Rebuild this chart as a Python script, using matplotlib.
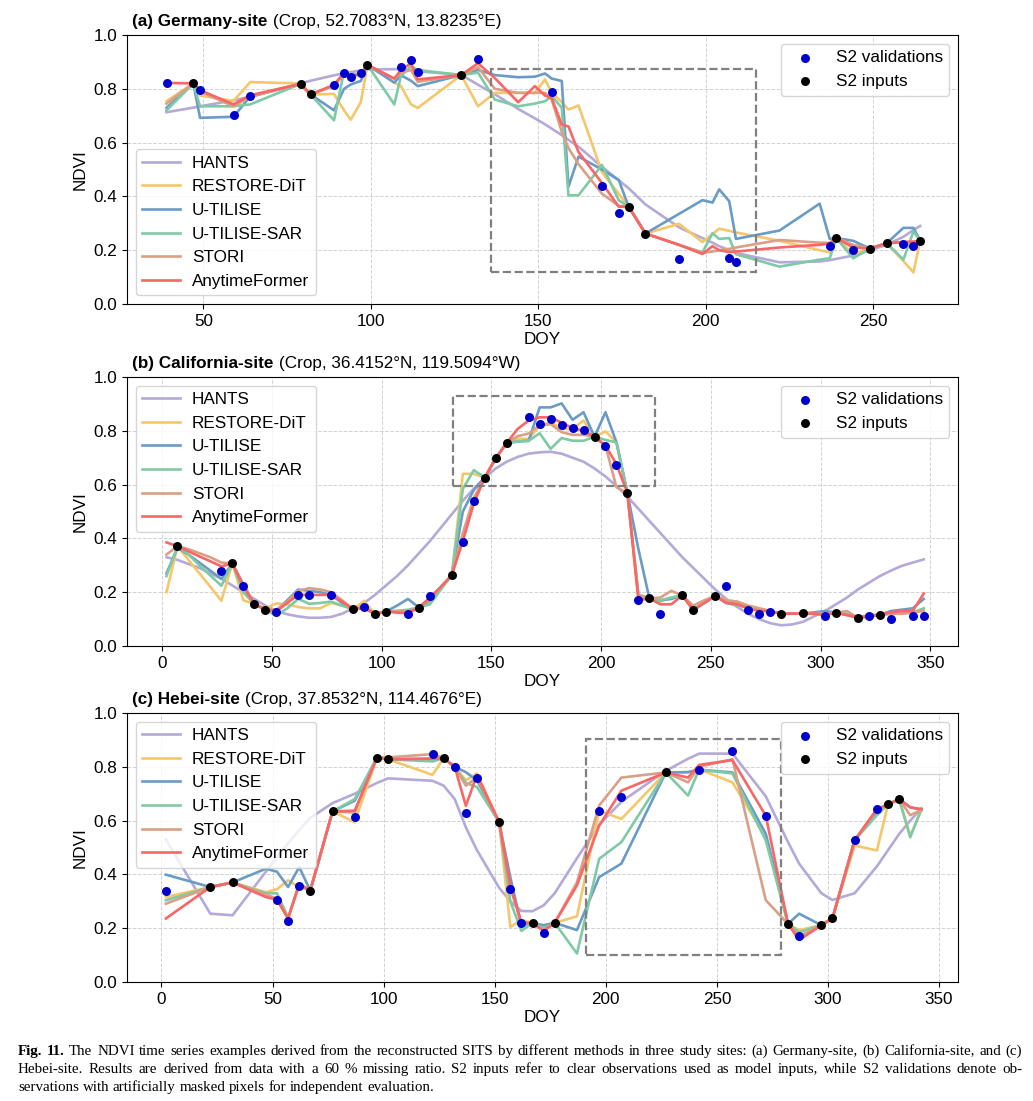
import matplotlib
matplotlib.use('Agg')
import matplotlib.pyplot as plt
from matplotlib.patches import Rectangle

plt.rcParams['font.family'] = ['Liberation Sans', 'DejaVu Sans']
plt.rcParams['font.size'] = 12.3

# ---------------- data ----------------
methods = ['HANTS', 'RESTORE-DiT', 'U-TILISE', 'U-TILISE-SAR', 'STORI', 'AnytimeFormer']

# (a) Germany-site
doy_a = [39, 47, 49, 59, 64, 79, 82, 89, 92, 94, 97, 99, 107, 109, 112, 114, 127, 132, 137, 144,
         149, 152, 154, 157, 159, 162, 169, 174, 177, 182, 192, 199, 202, 204, 207, 209, 222, 234, 237, 239,
         244, 249, 254, 259, 262, 264]
hants_a = [0.713, 0.73, 0.735, 0.757, 0.77, 0.82, 0.83, 0.85, 0.858, 0.862, 0.868, 0.872, 0.873, 0.873, 0.87, 0.865, 0.852, 0.815, 0.78, 0.725,
           0.69, 0.668, 0.652, 0.628, 0.61, 0.585, 0.51, 0.46, 0.43, 0.37, 0.285, 0.245, 0.228, 0.215, 0.2, 0.19, 0.155, 0.158, 0.163, 0.168,
           0.18, 0.2, 0.22, 0.25, 0.275, 0.29]
restore_a = [0.754, 0.82, 0.775, 0.755, 0.825, 0.82, 0.779, 0.781, 0.72, 0.685, 0.75, 0.889, 0.823, 0.81, 0.742, 0.729, 0.851, 0.735, 0.785, 0.785,
             0.785, 0.835, 0.785, 0.75, 0.723, 0.738, 0.49, 0.41, 0.361, 0.262, 0.298, 0.23, 0.26, 0.28, 0.272, 0.266, 0.235, 0.2, 0.192, 0.245,
             0.185, 0.206, 0.226, 0.16, 0.117, 0.235]
utilise_a = [0.729, 0.82, 0.692, 0.696, 0.772, 0.818, 0.779, 0.72, 0.8, 0.816, 0.829, 0.889, 0.823, 0.85, 0.83, 0.81, 0.851, 0.87, 0.851, 0.843,
             0.845, 0.857, 0.838, 0.829, 0.436, 0.548, 0.5, 0.461, 0.361, 0.262, 0.335, 0.386, 0.377, 0.426, 0.382, 0.242, 0.273, 0.373, 0.242, 0.245,
             0.235, 0.206, 0.226, 0.283, 0.283, 0.235]
sar_a = [0.72, 0.82, 0.735, 0.735, 0.742, 0.818, 0.779, 0.683, 0.866, 0.85, 0.857, 0.889, 0.742, 0.848, 0.884, 0.87, 0.851, 0.86, 0.76, 0.735,
         0.745, 0.754, 0.772, 0.73, 0.404, 0.404, 0.517, 0.386, 0.361, 0.262, 0.22, 0.192, 0.263, 0.242, 0.245, 0.185, 0.139, 0.165, 0.17, 0.245,
         0.17, 0.206, 0.226, 0.165, 0.27, 0.235]
stori_a = [0.745, 0.82, 0.79, 0.735, 0.77, 0.818, 0.779, 0.81, 0.855, 0.845, 0.855, 0.889, 0.838, 0.86, 0.87, 0.826, 0.851, 0.88, 0.8, 0.785,
           0.785, 0.785, 0.76, 0.64, 0.58, 0.52, 0.41, 0.365, 0.361, 0.262, 0.22, 0.19, 0.195, 0.2, 0.205, 0.21, 0.238, 0.228, 0.227, 0.245,
           0.22, 0.206, 0.226, 0.23, 0.23, 0.235]
anytime_a = [0.822, 0.82, 0.795, 0.742, 0.776, 0.818, 0.779, 0.815, 0.86, 0.844, 0.857, 0.889, 0.838, 0.87, 0.895, 0.835, 0.851, 0.895, 0.84, 0.75,
             0.81, 0.775, 0.765, 0.667, 0.66, 0.565, 0.45, 0.362, 0.361, 0.262, 0.22, 0.186, 0.215, 0.2, 0.193, 0.195, 0.21, 0.22, 0.225, 0.245,
             0.21, 0.206, 0.226, 0.23, 0.232, 0.235]
in_doy_a = [47, 79, 82, 99, 127, 177, 182, 239, 249, 254, 264]
in_ndvi_a = [0.82, 0.818, 0.779, 0.889, 0.851, 0.361, 0.262, 0.245, 0.206, 0.226, 0.235]
val_doy_a = [39, 49, 59, 64, 89, 92, 94, 97, 109, 112, 114, 132, 154, 169, 174, 192, 207, 209, 237, 244, 259, 262]
val_ndvi_a = [0.82, 0.795, 0.704, 0.772, 0.815, 0.86, 0.844, 0.857, 0.881, 0.906, 0.862, 0.91, 0.789, 0.438, 0.338, 0.167, 0.171, 0.156, 0.215, 0.2, 0.222, 0.216]

# (b) California-site
doy_b = [2, 7, 12, 17, 22, 27, 32, 37, 42, 47,
         52, 57, 62, 67, 72, 77, 82, 87, 92, 97,
         102, 107, 112, 117, 122, 127, 132, 137, 142, 147,
         152, 157, 162, 167, 172, 177, 182, 187, 192, 197,
         202, 207, 212, 217, 222, 227, 232, 237, 242, 247,
         252, 257, 262, 267, 272, 277, 282, 287, 292, 297,
         302, 307, 312, 317, 322, 327, 332, 337, 342, 347]
hants_b = [0.33, 0.32, 0.305, 0.29, 0.27, 0.25, 0.225, 0.2, 0.175, 0.15,
           0.13, 0.118, 0.11, 0.105, 0.105, 0.108, 0.12, 0.14, 0.16, 0.19,
           0.225, 0.26, 0.3, 0.345, 0.39, 0.44, 0.49, 0.54, 0.585, 0.625,
           0.66, 0.685, 0.703, 0.715, 0.72, 0.722, 0.715, 0.7, 0.685, 0.66,
           0.63, 0.595, 0.555, 0.51, 0.465, 0.42, 0.375, 0.33, 0.29, 0.25,
           0.21, 0.175, 0.145, 0.12, 0.1, 0.085, 0.077, 0.08, 0.09, 0.11,
           0.13, 0.155, 0.18, 0.21, 0.235, 0.26, 0.28, 0.298, 0.31, 0.322]
restore_b = [0.2, 0.371, 0.32, 0.27, 0.22, 0.168, 0.307, 0.17, 0.156, 0.14,
             0.158, 0.155, 0.145, 0.14, 0.14, 0.16, 0.15, 0.137, 0.168, 0.119,
             0.128, 0.13, 0.13, 0.143, 0.165, 0.215, 0.264, 0.64, 0.64, 0.626,
             0.698, 0.755, 0.77, 0.77, 0.819, 0.832, 0.807, 0.807, 0.838, 0.778,
             0.798, 0.757, 0.568, 0.18, 0.177, 0.165, 0.18, 0.188, 0.134, 0.165,
             0.186, 0.17, 0.165, 0.15, 0.14, 0.13, 0.12, 0.12, 0.121, 0.12,
             0.12, 0.124, 0.12, 0.105, 0.11, 0.116, 0.12, 0.125, 0.125, 0.135]
utilise_b = [0.27, 0.365, 0.34, 0.31, 0.28, 0.25, 0.307, 0.23, 0.156, 0.135,
             0.13, 0.17, 0.21, 0.205, 0.2, 0.19, 0.16, 0.137, 0.145, 0.119,
             0.128, 0.15, 0.175, 0.143, 0.17, 0.215, 0.264, 0.5, 0.58, 0.626,
             0.698, 0.755, 0.76, 0.763, 0.887, 0.887, 0.902, 0.841, 0.869, 0.778,
             0.869, 0.757, 0.568, 0.36, 0.177, 0.17, 0.175, 0.188, 0.134, 0.16,
             0.186, 0.165, 0.155, 0.145, 0.135, 0.13, 0.12, 0.122, 0.121, 0.125,
             0.13, 0.124, 0.115, 0.105, 0.115, 0.116, 0.13, 0.135, 0.14, 0.175]
sar_b = [0.26, 0.371, 0.34, 0.3, 0.262, 0.224, 0.307, 0.2, 0.156, 0.135,
         0.113, 0.14, 0.175, 0.157, 0.16, 0.165, 0.15, 0.137, 0.14, 0.119,
         0.128, 0.13, 0.135, 0.143, 0.155, 0.21, 0.264, 0.584, 0.654, 0.626,
         0.698, 0.755, 0.76, 0.763, 0.791, 0.733, 0.773, 0.763, 0.763, 0.778,
         0.766, 0.757, 0.568, 0.19, 0.177, 0.17, 0.18, 0.188, 0.134, 0.16,
         0.186, 0.16, 0.15, 0.145, 0.135, 0.13, 0.12, 0.12, 0.121, 0.12,
         0.12, 0.124, 0.12, 0.105, 0.11, 0.116, 0.12, 0.12, 0.125, 0.14]
stori_b = [0.34, 0.371, 0.36, 0.345, 0.33, 0.31, 0.307, 0.225, 0.156, 0.135,
           0.135, 0.165, 0.205, 0.215, 0.21, 0.2, 0.17, 0.137, 0.14, 0.119,
           0.128, 0.13, 0.13, 0.143, 0.175, 0.22, 0.264, 0.42, 0.55, 0.626,
           0.698, 0.755, 0.78, 0.79, 0.82, 0.825, 0.795, 0.785, 0.785, 0.778,
           0.745, 0.59, 0.568, 0.19, 0.177, 0.18, 0.205, 0.188, 0.15, 0.17,
           0.186, 0.17, 0.165, 0.15, 0.14, 0.13, 0.12, 0.12, 0.121, 0.12,
           0.12, 0.124, 0.13, 0.105, 0.11, 0.116, 0.12, 0.12, 0.125, 0.13]
anytime_b = [0.385, 0.371, 0.352, 0.333, 0.315, 0.296, 0.307, 0.222, 0.156, 0.135,
             0.128, 0.16, 0.19, 0.19, 0.19, 0.19, 0.165, 0.137, 0.143, 0.119,
             0.128, 0.124, 0.122, 0.143, 0.18, 0.22, 0.264, 0.39, 0.53, 0.626,
             0.698, 0.755, 0.807, 0.838, 0.85, 0.85, 0.83, 0.81, 0.8, 0.778,
             0.745, 0.676, 0.568, 0.17, 0.177, 0.155, 0.155, 0.188, 0.134, 0.16,
             0.186, 0.16, 0.155, 0.14, 0.13, 0.13, 0.12, 0.12, 0.121, 0.12,
             0.115, 0.124, 0.115, 0.105, 0.11, 0.116, 0.125, 0.13, 0.13, 0.195]
in_doy_b = [7, 32, 42, 47, 87, 97, 102, 117, 132, 147, 152, 157, 197, 212, 222, 237, 242, 252, 282, 292, 307, 317, 327]
in_ndvi_b = [0.371, 0.307, 0.156, 0.135, 0.137, 0.119, 0.128, 0.143, 0.264, 0.626, 0.698, 0.755, 0.778, 0.568, 0.177, 0.188,
             0.134, 0.186, 0.12, 0.121, 0.124, 0.105, 0.116]
val_doy_b = [27, 37, 52, 62, 67, 77, 92, 112, 122, 137, 142, 167, 172, 177, 182, 187, 192, 202, 207, 217, 227, 257, 267, 272,
             277, 302, 322, 332, 342, 347]
val_ndvi_b = [0.278, 0.222, 0.125, 0.19, 0.191, 0.191, 0.145, 0.119, 0.185, 0.388, 0.539, 0.852, 0.826, 0.845, 0.821, 0.81, 0.803,
              0.744, 0.674, 0.171, 0.119, 0.222, 0.135, 0.119, 0.125, 0.113, 0.113, 0.1, 0.113, 0.113]

# (c) Hebei-site
doy_c = [2, 22, 32, 47, 52, 57, 62, 67, 77, 87,
         97, 102, 122, 127, 132, 137, 142, 152, 157, 162,
         167, 172, 177, 187, 197, 207, 227, 237, 242, 257,
         272, 282, 287, 297, 302, 312, 322, 327, 332, 337, 342]
hants_c = [0.53, 0.254, 0.248, 0.41, 0.465, 0.515, 0.565, 0.61, 0.665, 0.7,
           0.74, 0.757, 0.748, 0.73, 0.68, 0.575, 0.49, 0.35, 0.3, 0.264,
           0.263, 0.285, 0.33, 0.46, 0.585, 0.67, 0.785, 0.83, 0.849, 0.849,
           0.69, 0.52, 0.44, 0.33, 0.305, 0.33, 0.43, 0.49, 0.55, 0.6, 0.645]
restore_c = [0.316, 0.353, 0.37, 0.334, 0.345, 0.378, 0.352, 0.34, 0.634, 0.594,
             0.834, 0.828, 0.77, 0.832, 0.8, 0.75, 0.775, 0.594, 0.205, 0.23,
             0.22, 0.21, 0.22, 0.244, 0.637, 0.606, 0.779, 0.78, 0.791, 0.742,
             0.538, 0.216, 0.193, 0.211, 0.237, 0.507, 0.489, 0.66, 0.68, 0.544, 0.637]
utilise_c = [0.399, 0.353, 0.37, 0.421, 0.41, 0.353, 0.427, 0.34, 0.634, 0.674,
             0.834, 0.828, 0.83, 0.832, 0.8, 0.78, 0.75, 0.594, 0.39, 0.21,
             0.22, 0.211, 0.22, 0.193, 0.39, 0.44, 0.779, 0.78, 0.789, 0.779,
             0.551, 0.216, 0.254, 0.211, 0.237, 0.527, 0.635, 0.66, 0.68, 0.65, 0.64]
sar_c = [0.304, 0.353, 0.37, 0.33, 0.33, 0.24, 0.36, 0.34, 0.634, 0.68,
         0.834, 0.828, 0.82, 0.832, 0.8, 0.74, 0.725, 0.594, 0.3, 0.19,
         0.22, 0.2, 0.22, 0.106, 0.458, 0.52, 0.779, 0.693, 0.79, 0.775,
         0.526, 0.216, 0.185, 0.211, 0.237, 0.527, 0.62, 0.66, 0.68, 0.538, 0.643]
stori_c = [0.291, 0.353, 0.37, 0.325, 0.31, 0.236, 0.365, 0.34, 0.634, 0.63,
           0.834, 0.835, 0.847, 0.832, 0.8, 0.73, 0.76, 0.594, 0.35, 0.22,
           0.22, 0.19, 0.22, 0.37, 0.656, 0.76, 0.779, 0.742, 0.8, 0.828,
           0.304, 0.216, 0.17, 0.211, 0.237, 0.527, 0.64, 0.66, 0.68, 0.62, 0.64]
anytime_c = [0.236, 0.353, 0.37, 0.316, 0.306, 0.236, 0.365, 0.34, 0.634, 0.637,
             0.834, 0.828, 0.83, 0.832, 0.8, 0.655, 0.77, 0.594, 0.36, 0.22,
             0.22, 0.19, 0.22, 0.359, 0.581, 0.711, 0.779, 0.76, 0.807, 0.825,
             0.618, 0.216, 0.156, 0.211, 0.237, 0.527, 0.643, 0.66, 0.68, 0.649, 0.643]
in_doy_c = [22, 32, 67, 77, 97, 102, 127, 152, 167, 177, 227, 282, 297, 302, 327, 332]
in_ndvi_c = [0.353, 0.37, 0.34, 0.634, 0.834, 0.828, 0.832, 0.594, 0.22, 0.22, 0.779, 0.216, 0.211, 0.237, 0.66, 0.68]
val_doy_c = [2, 52, 57, 62, 87, 122, 132, 137, 142, 157, 162, 172, 197, 207, 242, 257, 272, 287, 312, 322]
val_ndvi_c = [0.337, 0.306, 0.227, 0.358, 0.612, 0.847, 0.8, 0.627, 0.758, 0.346, 0.22, 0.183, 0.634, 0.688, 0.789, 0.858,
              0.616, 0.17, 0.527, 0.643]

# highlighted windows (DOY start, DOY end, NDVI low, NDVI high)
box_a = (136, 215, 0.118, 0.872)
box_b = (132.5, 224.5, 0.595, 0.93)
box_c = (191.3, 279, 0.1, 0.903)

titles_bold = ['(a) Germany-site', '(b) California-site', '(c) Hebei-site']
titles_rest = ['(Crop, 52.7083°N, 13.8235°E)', '(Crop, 36.4152°N, 119.5094°W)', '(Crop, 37.8532°N, 114.4676°E)']

# ---------------- style ----------------
colors = ['#B4A9D8', '#F5C76A', '#6A9BC7', '#7DCAA5', '#D9A085', '#FA6565']
W, H = 1033, 1101
fig = plt.figure(figsize=(W / 100, H / 100), dpi=100)


def ax_rect(left, right, top, bottom):
    return [left / W, 1 - bottom / H, (right - left) / W, (bottom - top) / H]


panels = [
    dict(rect=ax_rect(127, 958, 35, 304), doy=doy_a,
         series=[hants_a, restore_a, utilise_a, sar_a, stori_a, anytime_a],
         ind=in_doy_a, inv=in_ndvi_a, vd=val_doy_a, vv=val_ndvi_a, box=box_a,
         xlim=(27.2, 275.3), xticks=[50, 100, 150, 200, 250], legloc='lower left'),
    dict(rect=ax_rect(127, 958, 377, 646), doy=doy_b,
         series=[hants_b, restore_b, utilise_b, sar_b, stori_b, anytime_b],
         ind=in_doy_b, inv=in_ndvi_b, vd=val_doy_b, vv=val_ndvi_b, box=box_b,
         xlim=(-16.0, 362.6), xticks=[0, 50, 100, 150, 200, 250, 300, 350], legloc='upper left'),
    dict(rect=ax_rect(127, 958, 713, 982), doy=doy_c,
         series=[hants_c, restore_c, utilise_c, sar_c, stori_c, anytime_c],
         ind=in_doy_c, inv=in_ndvi_c, vd=val_doy_c, vv=val_ndvi_c, box=box_c,
         xlim=(-15.5, 358.5), xticks=[0, 50, 100, 150, 200, 250, 300, 350], legloc='upper left'),
]

for i, p in enumerate(panels):
    ax = fig.add_axes(p['rect'])
    ax.set_axisbelow(True)
    ax.grid(True, ls='--', lw=0.7, color='#d2d2d2')
    lines = []
    for name, col, vals in zip(methods, colors, p['series']):
        ln, = ax.plot(p['doy'], vals, color=col, lw=1.9, label=name, zorder=2)
        lines.append(ln)
    sv = ax.scatter(p['vd'], p['vv'], s=42, color='#0000CD', zorder=5, label='S2 validations', linewidths=0)
    si = ax.scatter(p['ind'], p['inv'], s=42, color='black', zorder=6, label='S2 inputs', linewidths=0)
    x0, x1, y0, y1 = p['box']
    ax.add_patch(Rectangle((x0, y0), x1 - x0, y1 - y0, fill=False, ls='--', lw=1.6,
                           ec='#808080', zorder=4))
    ax.set_xlim(*p['xlim'])
    ax.set_ylim(0, 1.0)
    ax.set_xticks(p['xticks'])
    ax.set_yticks([0.0, 0.2, 0.4, 0.6, 0.8, 1.0])
    ax.set_xlabel('DOY', labelpad=2)
    ax.set_ylabel('NDVI')
    leg1 = ax.legend(handles=lines, loc=p['legloc'], handlelength=2.2, handletextpad=0.7)
    ax.add_artist(leg1)
    ax.legend(handles=[sv, si], loc='upper right')
    tb = ax.annotate(titles_bold[i], xy=(0.006, 1.0), xycoords='axes fraction',
                     xytext=(0, 4), textcoords='offset points', fontweight='bold',
                     ha='left', va='bottom')
    ax.annotate(titles_rest[i], xy=(1.0, 0.0), xycoords=tb, xytext=(4, 0),
                textcoords='offset points', ha='left', va='bottom')

# ---------------- caption ----------------
cap_lines = [
    ("Fig. 11.", "The NDVI time series examples derived from the reconstructed SITS by different methods in three study sites: (a) Germany-site, (b) California-site, and (c)", True),
    ("", "Hebei-site. Results are derived from data with a 60 % missing ratio. S2 inputs refer to clear observations used as model inputs, while S2 validations denote ob-", True),
    ("", "servations with artificially masked pixels for independent evaluation.", False),
]
cap_y = [1055, 1073, 1091]
cap_x0, cap_x1 = 18, 1022
cap_family = ['Liberation Serif', 'DejaVu Serif']
renderer = fig.canvas.get_renderer()

# choose a caption size so that the longest line nearly fills the width
probe_fs = 10.0
probe_w = 0
for bold, rest, justify in cap_lines:
    full = (bold + ' ' + rest).strip()
    t = fig.text(0, 0, full, fontsize=probe_fs, family=cap_family)
    probe_w = max(probe_w, t.get_window_extent(renderer).width)
    t.remove()
cap_fs = probe_fs * (cap_x1 - cap_x0) / probe_w * 0.985

sp1 = fig.text(0, 0, 'a a', fontsize=cap_fs, family=cap_family)
sp2 = fig.text(0, 0, 'aa', fontsize=cap_fs, family=cap_family)
space_w = sp1.get_window_extent(renderer).width - sp2.get_window_extent(renderer).width
sp1.remove()
sp2.remove()

for (bold, rest, justify), yb in zip(cap_lines, cap_y):
    words = []
    if bold:
        words += [(w, 'bold') for w in bold.split()]
    words += [(w, 'normal') for w in rest.split()]
    texts, widths = [], []
    for w, wt in words:
        t = fig.text(0, 1 - yb / H, w, fontsize=cap_fs, family=cap_family, fontweight=wt,
                     ha='left', va='baseline')
        widths.append(t.get_window_extent(renderer).width)
        texts.append(t)
    if justify:
        gap = (cap_x1 - cap_x0 - sum(widths)) / (len(words) - 1)
    else:
        gap = space_w
    x = cap_x0
    for t, wdt in zip(texts, widths):
        t.set_x(x / W)
        x += wdt + gap

fig.savefig('out.png', dpi=100)
